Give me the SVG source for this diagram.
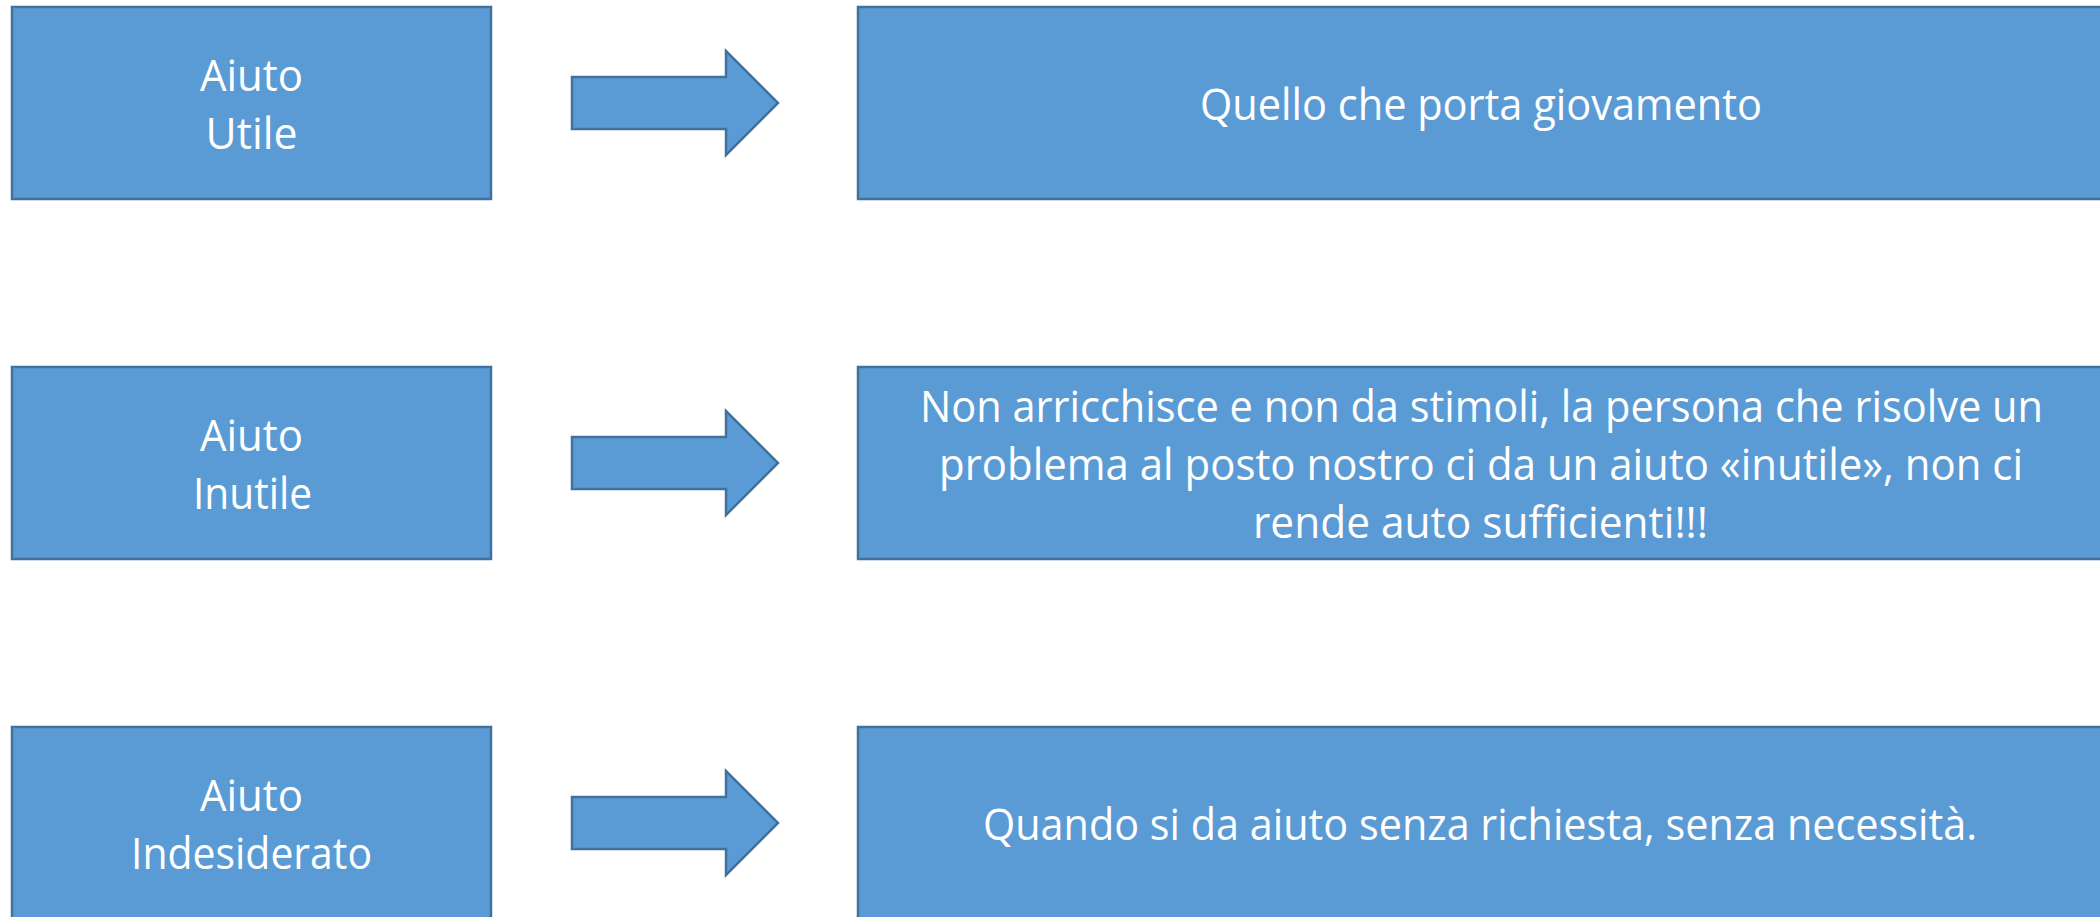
<svg xmlns="http://www.w3.org/2000/svg" width="2100" height="917" viewBox="0 0 2100 917">
<style>
.box{fill:#5B9BD5;stroke:#41719C;stroke-width:2.5}
.arr{fill:#5B9BD5;stroke:#41719C;stroke-width:2.5;stroke-linejoin:miter}
.t{font-family:"Open Sans","Noto Sans","Liberation Sans",sans-serif;font-size:43px;fill:#FFFFFF;text-anchor:middle}
</style>
<rect width="2100" height="917" fill="#FFFFFF"/>
<g id="left-utile">
<rect class="box" x="12" y="7" width="479" height="192"/>
<text class="t" x="251.5" y="91" textLength="103" lengthAdjust="spacingAndGlyphs">Aiuto</text>
<text class="t" x="251.5" y="149" textLength="92" lengthAdjust="spacingAndGlyphs">Utile</text>
</g>
<g id="right-utile">
<rect class="box" x="858" y="7" width="1246" height="192"/>
<text class="t" x="1481" y="120" textLength="562" lengthAdjust="spacingAndGlyphs">Quello che porta giovamento</text>
</g>
<g id="left-inutile">
<rect class="box" x="12" y="367" width="479" height="192"/>
<text class="t" x="251.5" y="451" textLength="103" lengthAdjust="spacingAndGlyphs">Aiuto</text>
<text class="t" x="252.5" y="509" textLength="119" lengthAdjust="spacingAndGlyphs">Inutile</text>
</g>
<g id="right-inutile">
<rect class="box" x="858" y="367" width="1246" height="192"/>
<text class="t" x="1481.5" y="422" textLength="1123" lengthAdjust="spacingAndGlyphs">Non arricchisce e non da stimoli, la persona che risolve un</text>
<text class="t" x="1481" y="480" textLength="1084" lengthAdjust="spacingAndGlyphs">problema al posto nostro ci da un aiuto «inutile», non ci</text>
<text class="t" x="1480.5" y="538" textLength="455" lengthAdjust="spacingAndGlyphs">rende auto sufficienti!!!</text>
</g>
<g id="left-indesiderato">
<rect class="box" x="12" y="727" width="479" height="192"/>
<text class="t" x="251.5" y="811" textLength="103" lengthAdjust="spacingAndGlyphs">Aiuto</text>
<text class="t" x="251.5" y="869" textLength="241" lengthAdjust="spacingAndGlyphs">Indesiderato</text>
</g>
<g id="right-indesiderato">
<rect class="box" x="858" y="727" width="1246" height="192"/>
<text class="t" x="1480" y="840" textLength="994" lengthAdjust="spacingAndGlyphs">Quando si da aiuto senza richiesta, senza necessità.</text>
</g>
<g id="connectors">
<path class="arr" d="M572,77 H726 V51 L778,103 L726,155 V129 H572 Z"/>
<path class="arr" d="M572,437 H726 V411 L778,463 L726,515 V489 H572 Z"/>
<path class="arr" d="M572,797 H726 V771 L778,823 L726,875 V849 H572 Z"/>
</g>
</svg>
